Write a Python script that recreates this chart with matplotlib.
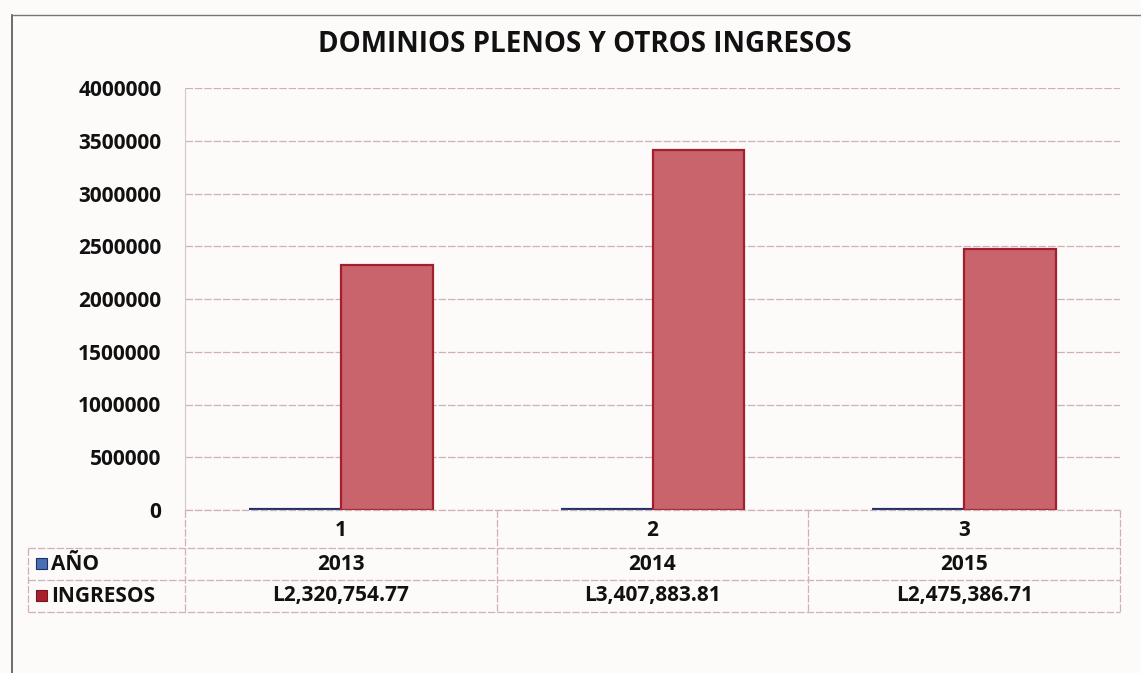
import matplotlib
matplotlib.use("Agg")
import matplotlib.pyplot as plt
from matplotlib.patches import Rectangle
from matplotlib.lines import Line2D
import matplotlib.transforms as mtransforms

title = "DOMINIOS PLENOS Y OTROS INGRESOS"
categories = ["1", "2", "3"]
series_names = ["AÑO", "INGRESOS"]
anio = [2013, 2014, 2015]
ingresos = [2320754.77, 3407883.81, 2475386.71]
ingresos_labels = ["L2,320,754.77", "L3,407,883.81", "L2,475,386.71"]
yticks = [0, 500000, 1000000, 1500000, 2000000, 2500000, 3000000, 3500000, 4000000]

W, H = 1141, 673
plt.rcParams['font.family'] = ['Open Sans', 'DejaVu Sans']
fig = plt.figure(figsize=(W / 100, H / 100), dpi=100)
bg = "#fdfafa"
fig.patch.set_facecolor(bg)

def fx(px):
    return px / W

def fy(py):
    return 1 - py / H

ax_l, ax_r, ax_t, ax_b = 185, 1120, 88, 510
ax = fig.add_axes([fx(ax_l), fy(ax_b), fx(ax_r - ax_l), (ax_b - ax_t) / H])
ax.set_facecolor(bg)

blue_face, blue_edge = "#4a6fb5", "#1f2f6a"
red_face, red_edge = "#c9646c", "#a31f2d"

x = list(range(1, len(categories) + 1))
bw = 0.295
ax.bar([i - bw / 2 for i in x], anio, width=bw, color=blue_face, edgecolor=blue_edge, linewidth=3, zorder=3)
ax.bar([i + bw / 2 for i in x], ingresos, width=bw, color=red_face, edgecolor=red_edge, linewidth=1.6, zorder=3)

ax.set_xlim(0.5, len(categories) + 0.5)
ax.set_ylim(0, 4000000)
ax.set_yticks(yticks)
tfs = 15
ax.set_yticklabels([str(v) for v in yticks], fontsize=tfs, fontweight="bold", color="#111111")
ax.tick_params(axis="y", length=0, pad=17)
ax.set_xticks([])
ax.grid(axis="y", color="#cfb2b9", linewidth=0.9, linestyle=(0, (6, 1.5)), zorder=0)
for side in ["top", "right", "bottom"]:
    ax.spines[side].set_visible(False)
ax.spines["left"].set_color("#d6c4c8")
ax.spines["left"].set_linewidth(0.8)

fig.text(fx(585), fy(45), title, ha="center", va="center", fontsize=20, fontweight="bold", color="#111111")

# data table
line_c = "#cfb2b9"
trans = mtransforms.blended_transform_factory(ax.transData, fig.transFigure)
row_lines = [510, 548, 580, 612]
row_centers = [530, 564, 596]
tab_left = 28

def hline(y, x0, x1):
    fig.add_artist(Line2D([fx(x0), fx(x1)], [fy(y), fy(y)], color=line_c, lw=0.9, linestyle=(0, (6, 1.5))))

def vline(xp, y0, y1):
    fig.add_artist(Line2D([fx(xp), fx(xp)], [fy(y0), fy(y1)], color=line_c, lw=0.9, linestyle=(0, (6, 1.5))))

hline(row_lines[1], tab_left, ax_r)
hline(row_lines[2], tab_left, ax_r)
hline(row_lines[3], tab_left, ax_r)
hline(row_lines[0], ax_l, ax_r)
vline(tab_left, row_lines[1], row_lines[3])
for b in [i + 0.5 for i in range(0, len(categories) + 1)]:
    xp = ax_l + (b - 0.5) / len(categories) * (ax_r - ax_l)
    vline(xp, row_lines[0], row_lines[3])

for i, c in enumerate(categories):
    fig.text(x[i], fy(row_centers[0]), c, transform=trans, ha="center", va="center",
             fontsize=tfs, fontweight="bold", color="#111111")
    fig.text(x[i], fy(row_centers[1]), str(anio[i]), transform=trans, ha="center", va="center",
             fontsize=tfs, fontweight="bold", color="#111111")
    fig.text(x[i], fy(row_centers[2]), ingresos_labels[i], transform=trans, ha="center", va="center",
             fontsize=tfs, fontweight="bold", color="#111111")

for name, face, edge, yc in [(series_names[0], blue_face, blue_edge, row_centers[1]),
                             (series_names[1], "#a8202e", "#7a1520", row_centers[2])]:
    fig.add_artist(Rectangle((fx(36), fy(yc + 5)), fx(11), 11 / H, facecolor=face,
                             edgecolor=edge, lw=0.8))
    fig.text(fx(51), fy(yc), name, ha="left", va="center", fontsize=tfs, fontweight="bold", color="#111111")

# outer chart border
fig.add_artist(Line2D([fx(12), fx(12)], [fy(15), fy(673)], color="#555555", lw=1.2))
fig.add_artist(Line2D([fx(12), fx(1141)], [fy(15), fy(15)], color="#777777", lw=1.0))

fig.savefig("out.png", dpi=100, facecolor=fig.get_facecolor())
